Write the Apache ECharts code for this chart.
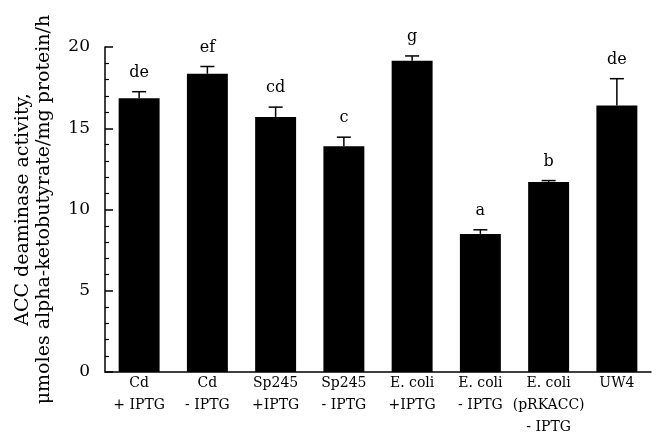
<!DOCTYPE html>
<html><head><meta charset="utf-8">
<script src="https://cdn.jsdelivr.net/npm/echarts@6/dist/echarts.min.js"></script>
<style>html,body{margin:0;padding:0;background:#fff}#c{width:657px;height:442px}</style>
</head><body><div id="c"></div>
<script>
var categories = ["Cd\n+ IPTG", "Cd\n- IPTG", "Sp245\n+IPTG", "Sp245\n- IPTG", "E. coli\n+IPTG", "E. coli\n- IPTG", "E. coli\n(pRKACC)\n- IPTG", "UW4"];
var values = [16.85, 18.35, 15.7, 13.9, 19.15, 8.5, 11.7, 16.4];
var errors = [0.4, 0.45, 0.6, 0.55, 0.3, 0.25, 0.08, 1.65];
var letters = ["de", "ef", "cd", "c", "g", "a", "b", "de"];
var yTicks = [0, 5, 10, 15, 20];

var serif = "DejaVu Serif";
var chart = echarts.init(document.getElementById('c'));
chart.setOption({
  animation: false,
  grid: {left: 105, right: 6, top: 47, bottom: 70},
  xAxis: {
    type: 'category', data: categories,
    axisLine: {lineStyle: {color: '#000', width: 1.5}},
    axisTick: {show: false},
    axisLabel: {color: '#000', fontFamily: serif, fontSize: 14, lineHeight: 22, margin: 0, interval: 0}
  },
  yAxis: {
    type: 'value', min: 0, max: 20, interval: 5,
    name: "ACC deaminase activity,\nμmoles alpha-ketobutyrate/mg protein/h",
    nameLocation: 'middle', nameRotate: 90, nameGap: 50,
    nameTextStyle: {color: '#000', fontFamily: serif, fontSize: 19, lineHeight: 21},
    axisLine: {show: true, lineStyle: {color: '#000', width: 1.5}},
    axisTick: {show: true, inside: true, length: 8, lineStyle: {color: '#000', width: 1.5}},
    minorTick: {show: true, splitNumber: 5, length: 4, lineStyle: {color: '#000', width: 1.2}},
    splitLine: {show: false},
    axisLabel: {color: '#000', fontFamily: serif, fontSize: 17, margin: 15,
      formatter: function (v) { return yTicks.indexOf(v) >= 0 ? String(v) : ''; }}
  },
  series: [
    {type: 'bar', data: values, barWidth: '60%', itemStyle: {color: '#000'}, z: 2},
    {
      type: 'custom', z: 3,
      data: values.map(function (v, i) { return [i, v, errors[i], letters[i]]; }),
      renderItem: function (params, api) {
        var i = api.value(0), v = api.value(1), e = api.value(2);
        var base = api.coord([i, v]);
        var top = api.coord([i, v + e]);
        var cap = 7;
        return {
          type: 'group',
          children: [
            {type: 'line', shape: {x1: base[0], y1: base[1], x2: top[0], y2: top[1]}, style: {stroke: '#000', lineWidth: 1.5}},
            {type: 'line', shape: {x1: top[0] - cap, y1: top[1], x2: top[0] + cap, y2: top[1]}, style: {stroke: '#000', lineWidth: 1.5}},
            {type: 'text', style: {text: letters[i], x: top[0], y: top[1] - 11, align: 'center', verticalAlign: 'bottom',
              fill: '#000', fontFamily: serif, fontSize: 16}}
          ]
        };
      }
    }
  ]
});
</script></body></html>
